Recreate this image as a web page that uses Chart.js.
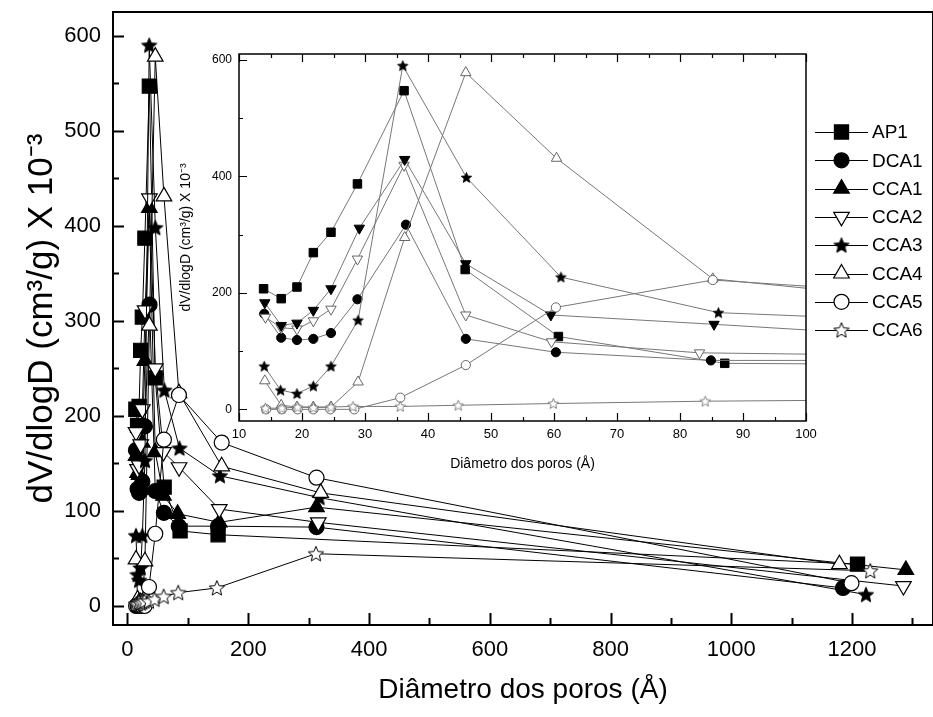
<!DOCTYPE html>
<html><head><meta charset="utf-8">
<script src="https://cdn.jsdelivr.net/npm/chart.js@4.4.0/dist/chart.umd.min.js"></script>
<style>
html,body{margin:0;padding:0;background:#fff;}
#wrap{position:relative;width:933px;height:717px;overflow:hidden;}
#main{position:absolute;left:0;top:0;width:933px;height:717px;}
#inset{position:absolute;left:160px;top:40px;width:660px;height:440px;}
</style></head><body>
<div id="wrap"><canvas id="main" width="933" height="717"></canvas><canvas id="inset" width="660" height="440"></canvas></div>
<script>
// ---------- data (pore diameter in Å, dV/dlogD x 10^-3) ----------
const seriesNames = ['AP1','DCA1','CCA1','CCA2','CCA3','CCA4','CCA5','CCA6'];
const xAP1  = [13.9,16.7,19.2,21.8,24.6,28.8,36.2,45.9,60.7,87.1,150,1209];
const yAP1  = [207,190,210,269,304,387,547,240,125,79,75,44];
const xDCA1 = [14.0,16.7,19.2,21.8,24.6,28.8,36.5,46.0,60.3,84.9,150,313,1185];
const yDCA1 = [164,123,119,121,131,189,317,121,98,84,84,83,19];
const xCCA1 = [14.2,16.7,19.2,21.8,24.6,28.8,36.2,46.0,59.6,83.1,152,313,1289];
const yCCA1 = [158,140,138,152,172,258,419,162,116,97,88,104,38];
const xCCA2 = [14.1,16.7,19.2,21.8,24.6,29.1,36.3,46.0,59.5,85.4,152,316,1285];
const yCCA2 = [183,144,148,170,207,311,429,250,162,146,102,88,21];
const xCCA3 = [14.0,16.6,19.2,21.8,24.6,28.9,36.0,46.1,61.1,86.1,153,318,1223];
const yCCA3 = [74,33,27,40,74,153,590,398,227,166,137,114,12];
const xCCA4 = [14.1,16.7,19.2,21.8,24.6,28.9,36.3,46.0,60.4,85.2,156,320,1179];
const yCCA4 = [49,7,4,4,4,47,295,578,431,224,147,119,44];
const xCCA5 = [14.3,16.8,19.3,21.8,24.5,28.3,35.6,46.0,60.3,85.2,156,313,1199];
const yCCA5 = [0,0,0,0,0,0,20,76,175,222,172,135,24];
const xCCA6 = [14.2,16.8,19.3,21.8,24.6,28.1,35.6,44.8,59.9,84.0,148,312,1230];
const yCCA6 = [2,2,4,3,4,5,5,7,10,14,19,55,37];

const mainXTicks = [0,200,400,600,800,1000,1200];
const mainXMinor = [100,300,500,700,900,1100,1300];
const mainYTicks = [0,100,200,300,400,500,600];
const mainYMinor = [50,150,250,350,450,550];
const insetXTicks = [10,20,30,40,50,60,70,80,90,100];
const insetXMinor = [15,25,35,45,55,65,75,85,95];
const insetYTicks = [0,200,400,600];
const insetYMinor = [100,300,500];

const xTitle = 'Diâmetro dos poros (Å)';
const yTitle = 'dV/dlogD (cm³/g) X 10⁻³';

const allX = [xAP1,xDCA1,xCCA1,xCCA2,xCCA3,xCCA4,xCCA5,xCCA6];
const allY = [yAP1,yDCA1,yCCA1,yCCA2,yCCA3,yCCA4,yCCA5,yCCA6];

// ---------- marker helpers ----------
function makeStar(R, fill, stroke, lw){
  const s = Math.ceil(R*2+lw*2+2);
  const c = document.createElement('canvas'); c.width = s; c.height = s;
  const g = c.getContext('2d');
  const cx = s/2, cy = s/2 + R*0.08, r = R*0.45;
  g.beginPath();
  for (let i=0;i<10;i++){
    const ang = -Math.PI/2 + i*Math.PI/5;
    const rr = i%2===0 ? R : r;
    const px = cx + rr*Math.cos(ang), py = cy + rr*Math.sin(ang);
    if (i===0) g.moveTo(px,py); else g.lineTo(px,py);
  }
  g.closePath();
  g.fillStyle = fill; g.fill();
  g.lineWidth = lw; g.strokeStyle = stroke; g.stroke();
  return c;
}
const mainStyles = [
  {ps:'rect', rot:0, r:10, fill:'#000'},
  {ps:'circle', rot:0, r:7.5, fill:'#000'},
  {ps:'triangle', rot:0, r:9, fill:'#000'},
  {ps:'triangle', rot:180, r:9, fill:'#fff'},
  {ps:makeStar(8,'#000','#000',1), rot:0, r:8, fill:'#000', star:true},
  {ps:'triangle', rot:0, r:9, fill:'#fff'},
  {ps:'circle', rot:0, r:7.5, fill:'#fff'},
  {ps:makeStar(8,'#fff','#000',1), rot:0, r:8, fill:'#fff', star:true}
];
const G = '#666';
const insetStyles = [
  {ps:'rect', rot:0, r:6, fill:'#000', stroke:'#000'},
  {ps:'circle', rot:0, r:4.6, fill:'#000', stroke:'#000'},
  {ps:'triangle', rot:180, r:6, fill:'#fff', stroke:G},
  {ps:'triangle', rot:180, r:6, fill:'#000', stroke:'#000'},
  {ps:makeStar(5.5,'#000','#000',0.8), rot:0, r:5.5, fill:'#000', stroke:'#000'},
  {ps:'triangle', rot:0, r:6, fill:'#fff', stroke:G},
  {ps:'circle', rot:0, r:4.6, fill:'#fff', stroke:G},
  {ps:makeStar(5.5,'#fff',G,0.8), rot:0, r:5.5, fill:'#fff', stroke:G}
];

function pts(i){ return allX[i].map((x,k)=>({x:x, y:allY[i][k]})); }

// ---------- ticks + frame plugin ----------
const frameTicks = {
  id:'frameTicks',
  afterDraw(chart, args, o){
    const {ctx, chartArea:a, scales:{x,y}} = chart;
    ctx.save();
    ctx.strokeStyle = '#000';
    ctx.lineWidth = o.tickWidth;
    ctx.beginPath();
    const xt = (vals, len) => vals.forEach(v=>{
      const p = Math.round(x.getPixelForValue(v))+0.5;
      ctx.moveTo(p, a.bottom); ctx.lineTo(p, a.bottom-len);
      if (o.topTicks){ ctx.moveTo(p, a.top); ctx.lineTo(p, a.top+len); }
    });
    const yt = (vals, len) => vals.forEach(v=>{
      const p = Math.round(y.getPixelForValue(v))+0.5;
      ctx.moveTo(a.left, p); ctx.lineTo(a.left+len, p);
    });
    xt(o.xMajor, o.xMajorLen); xt(o.xMinor, o.xMinorLen);
    yt(o.yMajor, o.yMajorLen); yt(o.yMinor, o.yMinorLen);
    ctx.stroke();
    ctx.lineWidth = o.frameWidth;
    ctx.strokeRect(a.left, a.top, a.right-a.left, a.bottom-a.top);
    ctx.restore();
  }
};

// ---------- legend plugin (main chart) ----------
function drawMarker(ctx, st, x, y){
  if (st.star){ ctx.drawImage(st.ps, x-st.ps.width/2, y-st.ps.height/2); return; }
  ctx.save();
  ctx.fillStyle = st.fill; ctx.strokeStyle = '#000'; ctx.lineWidth = 1.2;
  ctx.beginPath();
  const r = st.r;
  if (st.ps==='rect'){ const s=Math.SQRT1_2*r; ctx.rect(x-s,y-s,2*s,2*s); }
  else if (st.ps==='circle'){ ctx.arc(x,y,r,0,Math.PI*2); }
  else if (st.ps==='triangle'){
    let rad = st.rot*Math.PI/180;
    for (let k=0;k<3;k++){
      const px = x+Math.sin(rad)*r, py = y-Math.cos(rad)*r;
      if (k===0) ctx.moveTo(px,py); else ctx.lineTo(px,py);
      rad += 2*Math.PI/3;
    }
    ctx.closePath();
  }
  ctx.fill(); ctx.stroke();
  ctx.restore();
}
const legendPlugin = {
  id:'customLegend',
  afterDraw(chart, args, o){
    const ctx = chart.ctx;
    ctx.save();
    ctx.font = '19px "Liberation Sans", Arial, sans-serif';
    ctx.textBaseline = 'middle';
    seriesNames.forEach((n,i)=>{
      const y = o.top + i*o.step;
      ctx.strokeStyle = '#000'; ctx.lineWidth = 1;
      ctx.beginPath(); ctx.moveTo(o.x1, Math.round(y)+0.5); ctx.lineTo(o.x2, Math.round(y)+0.5); ctx.stroke();
      drawMarker(ctx, mainStyles[i], (o.x1+o.x2)/2, y);
      ctx.fillStyle = '#000';
      ctx.fillText(n, o.x2+4, y+1);
    });
    ctx.restore();
  }
};

Chart.defaults.font.family = '"Liberation Sans", Arial, sans-serif';
Chart.defaults.color = '#000';
const plain = v => String(v);
const fitY = w => s => { s.width = w; s.paddingTop = 0; s.paddingBottom = 0; };
const fitX = h => s => { s.height = h; s.paddingLeft = 0; s.paddingRight = 0; };

// ---------- main chart ----------
new Chart(document.getElementById('main'), {
  type:'scatter',
  data:{ datasets: seriesNames.map((n,i)=>({
    label:n, data:pts(i), showLine:true,
    borderColor:'#000', borderWidth:1,
    pointStyle:mainStyles[i].ps, pointRotation:mainStyles[i].rot, pointRadius:mainStyles[i].r,
    pointBackgroundColor:mainStyles[i].fill, pointBorderColor:'#000', pointBorderWidth:1.2,
    order: 8-i
  }))},
  options:{
    responsive:false, animation:false, devicePixelRatio:1, events:[],
    layout:{autoPadding:false, padding:{top:12,right:0,left:0,bottom:0}},
    plugins:{
      legend:{display:false}, tooltip:{enabled:false},
      frameTicks:{tickWidth:2, frameWidth:2, xMajor:mainXTicks, xMinor:mainXMinor, xMajorLen:12, xMinorLen:7,
        yMajor:mainYTicks, yMinor:mainYMinor, yMajorLen:11, yMinorLen:6, topTicks:false},
      customLegend:{x1:815, x2:868, top:132, step:28.3}
    },
    scales:{
      x:{type:'linear', min:-24, max:1334,
        afterBuildTicks:s=>{ s.ticks = mainXTicks.map(v=>({value:v})); },
        afterFit:fitX(92),
        grid:{display:false, drawTicks:false}, border:{display:false},
        ticks:{padding:12, font:{size:22}, maxRotation:0, autoSkip:false, callback:plain},
        title:{display:true, text:xTitle, font:{size:28}, padding:{top:0,bottom:10}}
      },
      y:{type:'linear', min:-20, max:625,
        afterBuildTicks:s=>{ s.ticks = mainYTicks.map(v=>({value:v})); },
        afterFit:fitY(113),
        grid:{display:false, drawTicks:false}, border:{display:false},
        ticks:{padding:12, font:{size:22}, autoSkip:false, callback:plain},
        title:{display:true, text:yTitle, font:{size:35}, padding:{top:21,bottom:0}}
      }
    }
  },
  plugins:[frameTicks, legendPlugin]
});

// ---------- inset chart ----------
new Chart(document.getElementById('inset'), {
  type:'scatter',
  data:{ datasets: seriesNames.map((n,i)=>({
    label:n, data:pts(i), showLine:true,
    borderColor:'#777', borderWidth:1,
    pointStyle:insetStyles[i].ps, pointRotation:insetStyles[i].rot, pointRadius:insetStyles[i].r,
    pointBackgroundColor:insetStyles[i].fill, pointBorderColor:insetStyles[i].stroke, pointBorderWidth:1,
    order: 8-i
  }))},
  options:{
    responsive:false, animation:false, devicePixelRatio:1, events:[],
    layout:{autoPadding:false, padding:{top:14,right:14,left:0,bottom:0}},
    plugins:{
      legend:{display:false}, tooltip:{enabled:false},
      frameTicks:{tickWidth:1.2, frameWidth:1.5, xMajor:insetXTicks, xMinor:insetXMinor, xMajorLen:8, xMinorLen:4,
        yMajor:insetYTicks, yMinor:insetYMinor, yMajorLen:8, yMinorLen:4, topTicks:true}
    },
    scales:{
      x:{type:'linear', min:10, max:100,
        afterBuildTicks:s=>{ s.ticks = insetXTicks.map(v=>({value:v})); },
        afterFit:fitX(59),
        grid:{display:false, drawTicks:false}, border:{display:false},
        ticks:{padding:6, font:{size:13}, maxRotation:0, autoSkip:false, callback:plain},
        title:{display:true, text:xTitle, font:{size:14}, padding:{top:0,bottom:7}}
      },
      y:{type:'linear', min:-20, max:610,
        afterBuildTicks:s=>{ s.ticks = insetYTicks.map(v=>({value:v})); },
        afterFit:fitY(79),
        grid:{display:false, drawTicks:false}, border:{display:false},
        ticks:{padding:7, font:{size:12}, autoSkip:false, callback:plain},
        title:{display:true, text:yTitle, font:{size:14}, padding:{top:18,bottom:0}}
      }
    }
  },
  plugins:[frameTicks]
});
</script>
</body></html>
